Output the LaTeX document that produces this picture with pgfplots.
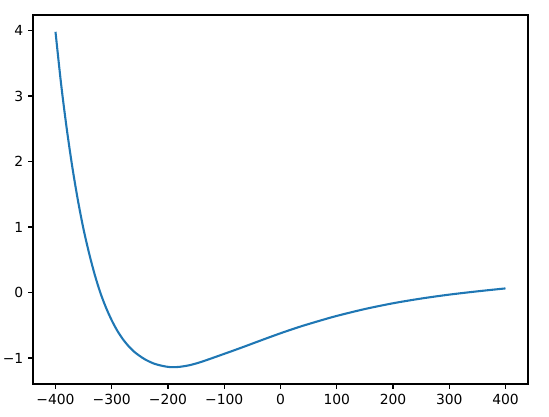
\documentclass[border=0pt]{standalone}
\usepackage{pgfplots}
\pgfplotsset{compat=1.18}
\usetikzlibrary{calc}
\usepackage{fontspec}
\setmainfont{DejaVu Sans}
\definecolor{mplblue}{HTML}{1F77B4}
\begin{document}
\begin{tikzpicture}
\begin{axis}[
  name=ax,
  scale only axis,
  width=356.4pt, height=265.7pt,
  xmin=-440, xmax=440,
  ymin=-1.397, ymax=4.237,
  axis line style={line width=0.8pt},
  tick style={line width=0.8pt, black},
  tick align=outside,
  major tick length=3.5pt,
  xtick pos=bottom, ytick pos=left,
  xtick={-400,-300,-200,-100,0,100,200,300,400},
  xticklabels={−400,−300,−200,−100,0,100,200,300,400},
  ytick={-1,0,1,2,3,4},
  yticklabels={−1,0,1,2,3,4},
  tick label style={font=\fontsize{10}{12}\selectfont},
]
\addplot[mplblue, line width=1.5pt, smooth, tension=0.5] coordinates {
(-400,3.98) (-390,3.18) (-380,2.50) (-370,1.91) (-360,1.40) (-350,0.96)
(-340,0.59) (-330,0.265) (-320,-0.01) (-310,-0.235) (-300,-0.425) (-290,-0.585)
(-280,-0.715) (-270,-0.82) (-260,-0.905) (-250,-0.97) (-240,-1.025) (-225,-1.085)
(-210,-1.12) (-195,-1.14) (-180,-1.135) (-162,-1.11) (-143,-1.065) (-122,-1.003)
(-102,-0.942) (-84,-0.887) (-62,-0.818) (-43,-0.757) (-20,-0.684) (0,-0.622)
(20,-0.563) (40,-0.507) (70,-0.43) (100,-0.357) (150,-0.252) (200,-0.164)
(250,-0.092) (300,-0.032) (350,0.018) (400,0.063)
};
\end{axis}
\pgfresetboundingbox
\path[use as bounding box] ($(ax.south west)+(-23.76pt,-23.04pt)$) rectangle ($(ax.north east)+(15.12pt,10.8pt)$);
\end{tikzpicture}
\end{document}
